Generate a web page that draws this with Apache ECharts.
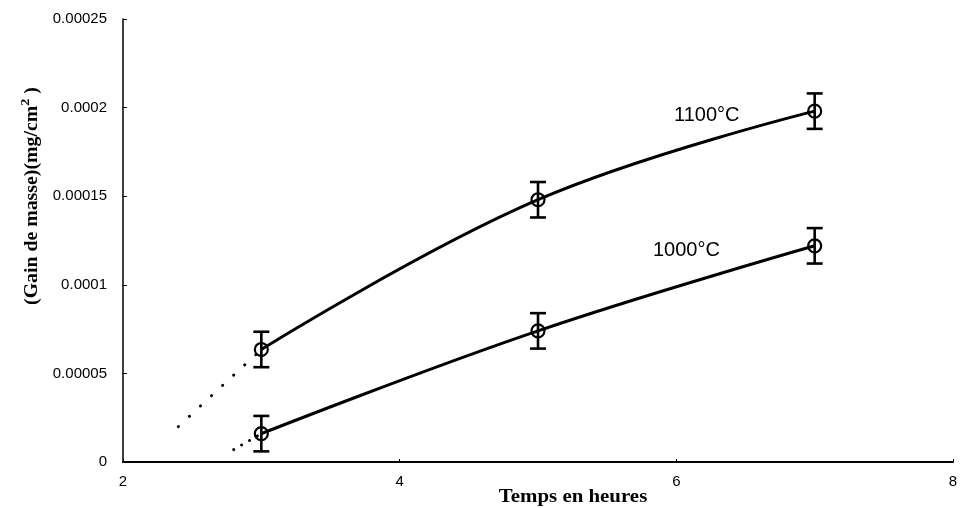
<!DOCTYPE html>
<html>
<head>
<meta charset="utf-8">
<script src="https://cdn.jsdelivr.net/npm/echarts@6/dist/echarts.min.js"></script>
<style>
  html, body { margin: 0; padding: 0; background: #fff; }
  #chart { width: 962px; height: 508px; }
</style>
</head>
<body>
<div id="chart"></div>
<script>
// Mass gain measurements (mg/cm²) versus oxidation time (hours)
const hours = [3, 5, 7];
const gain1100 = [6.35e-5, 1.48e-4, 1.98e-4];
const gain1000 = [1.6e-5, 7.4e-5, 1.22e-4];
const err1100 = [1.0e-5, 1.0e-5, 1.0e-5];
const err1000 = [1.0e-5, 1.0e-5, 1.0e-5];

// Dotted extrapolation back towards the origin
const extrapHours1100 = [2.4, 3];
const extrapGain1100 = [2.0e-5, 6.35e-5];
const extrapHours1000 = [2.8, 3];
const extrapGain1000 = [7.0e-6, 1.6e-5];

const xTicks = { min: 2, max: 8, step: 2 };
const yTicks = { min: 0, max: 0.00025, step: 0.00005 };

const pairs = (xs, ys) => xs.map((x, i) => [x, ys[i]]);
const errRows = (xs, ys, es) => xs.map((x, i) => [x, ys[i] - es[i], ys[i] + es[i]]);

function errorBar(params, api) {
  const x = api.value(0);
  const lo = api.coord([x, api.value(1)]);
  const hi = api.coord([x, api.value(2)]);
  const half = 8;
  const style = { stroke: '#000', lineWidth: 2.6 };
  return {
    type: 'group',
    children: [
      { type: 'line', shape: { x1: lo[0], y1: lo[1], x2: hi[0], y2: hi[1] }, style },
      { type: 'line', shape: { x1: lo[0] - half, y1: lo[1], x2: lo[0] + half, y2: lo[1] }, style },
      { type: 'line', shape: { x1: hi[0] - half, y1: hi[1], x2: hi[0] + half, y2: hi[1] }, style }
    ]
  };
}

const curveStyle = { color: '#000', width: 3 };
const markerStyle = { color: 'rgba(0,0,0,0)', borderColor: '#000', borderWidth: 2.2 };
const titleFont = 'bold 18px "Liberation Serif"';

const chart = echarts.init(document.getElementById('chart'));
chart.setOption({
  animation: false,
  backgroundColor: '#fff',
  grid: { left: 123, right: 9, top: 19, bottom: 46 },
  xAxis: {
    type: 'value',
    min: xTicks.min, max: xTicks.max, interval: xTicks.step,
    axisLine: { lineStyle: { color: '#000', width: 2 } },
    axisTick: { inside: true, length: 3, lineStyle: { color: '#000' } },
    axisLabel: { fontFamily: 'Liberation Sans', fontSize: 15, color: '#000', margin: 12 },
    splitLine: { show: false }
  },
  yAxis: {
    type: 'value',
    min: yTicks.min, max: yTicks.max, interval: yTicks.step,
    axisLine: { show: true, lineStyle: { color: '#000', width: 1.5 } },
    axisTick: { show: true, inside: true, length: 4, lineStyle: { color: '#000' } },
    axisLabel: {
      fontFamily: 'Liberation Sans', fontSize: 15, color: '#000', margin: 16,
      formatter: v => v === 0 ? '0' : v.toFixed(5).replace(/0+$/, '')
    },
    splitLine: { show: false }
  },
  graphic: [
    {
      type: 'text', x: 32, y: 196, rotation: Math.PI / 2, scaleX: 1.1,
      style: {
        text: '(Gain de masse)(mg/cm{sup|2} )',
        font: titleFont, fill: '#000', align: 'center', verticalAlign: 'middle',
        rich: { sup: { font: 'bold 13px "Liberation Serif"', fill: '#000', padding: [0, 0, 12, 0] } }
      }
    },
    {
      type: 'text', x: 573, y: 497, scaleX: 1.16,
      style: { text: 'Temps en heures', font: titleFont, fill: '#000', align: 'center', verticalAlign: 'middle' }
    },
    { type: 'text', x: 674, y: 115, style: { text: '1100°C', font: '20px "Liberation Sans"', fill: '#000', verticalAlign: 'middle' } },
    { type: 'text', x: 653, y: 250, style: { text: '1000°C', font: '20px "Liberation Sans"', fill: '#000', verticalAlign: 'middle' } }
  ],
  series: [
    {
      type: 'line', data: pairs(extrapHours1100, extrapGain1100), symbol: 'none', z: 1,
      lineStyle: { color: '#000', width: 3, type: [0.1, 15], cap: 'round' }
    },
    {
      type: 'line', data: pairs(extrapHours1000, extrapGain1000), symbol: 'none', z: 1,
      lineStyle: { color: '#000', width: 3, type: [0.1, 9], cap: 'round' }
    },
    { type: 'custom', data: errRows(hours, gain1100, err1100), renderItem: errorBar, z: 2 },
    { type: 'custom', data: errRows(hours, gain1000, err1000), renderItem: errorBar, z: 2 },
    {
      type: 'line', data: pairs(hours, gain1100), smooth: 0.4, z: 3,
      symbol: 'circle', symbolSize: 13, itemStyle: markerStyle, lineStyle: curveStyle
    },
    {
      type: 'line', data: pairs(hours, gain1000), smooth: 0.4, z: 3,
      symbol: 'circle', symbolSize: 13, itemStyle: markerStyle, lineStyle: curveStyle
    }
  ]
});
</script>
</body>
</html>
